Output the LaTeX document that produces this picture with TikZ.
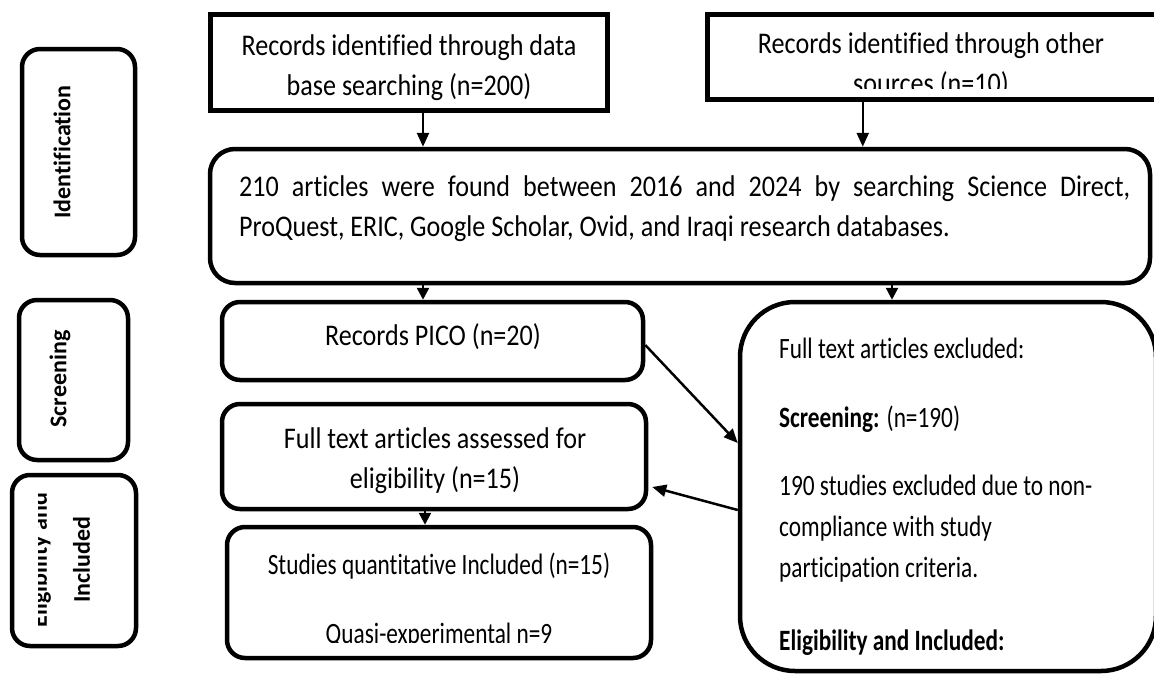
\documentclass[tikz,border=0pt]{standalone}
\usepackage{fontspec}
\setmainfont{Carlito}[FakeStretch=0.87,Ligatures=NoCommon]
\newfontfamily\lblfont{Carlito}[Ligatures=NoCommon]
\newfontfamily\narrowfont{Carlito}[FakeStretch=0.79,Ligatures=NoCommon]
\usetikzlibrary{arrows.meta}
\newcommand\fM{\fontsize{30}{40}\selectfont}
\newcommand\fS{\narrowfont\fontsize{29.5}{41}\selectfont}
\newcommand\fL{\lblfont\fontsize{24}{43}\selectfont\bfseries}
\tikzset{
  sharpbox/.style={draw, line width=5pt, inner sep=0pt},
  roundbox/.style={draw, line width=4.5pt, rounded corners=#1, inner sep=0pt},
  roundbox/.default=18pt,
  txt/.style={inner sep=0pt, align=center},
  arr/.style={-{Triangle[length=14pt,width=12pt]}, line width=2.5pt},
  sarr/.style={-{Triangle[length=12pt,width=12pt]}, line width=2.5pt},
}
\hyphenpenalty=10000
\begin{document}
\begin{tikzpicture}[x=1pt,y=-1pt]
\useasboundingbox (0,0) rectangle (1154,675);
\fill[white] (0,0) rectangle (1154,675);

% stage labels
\node[roundbox, minimum width=113pt, minimum height=206pt] (idl) at (78.5,152) {};
\node[font=\fL, rotate=90, inner sep=0pt] (idlt) at (62,152) {Identification};
\node[roundbox, minimum width=109pt, minimum height=160pt] (scr) at (73.5,380) {};
\node[font=\fL, rotate=90, inner sep=0pt] (scrt) at (60,379) {Screening};
\node[roundbox, minimum width=124pt, minimum height=171pt] (elg) at (74,560.5) {};
\begin{scope}
  \clip (38,470) rectangle (140,650);
  \node[font=\fL, rotate=90, align=center, inner sep=0pt] (elgt) at (60,560) {Eligibility and\\Included};
\end{scope}

% top boxes
\node[sharpbox, minimum width=397pt, minimum height=96pt] (tl) at (409,62.5) {};
\node[txt, font=\fM, anchor=north] (tlt) at (409,34.5) {Records identified through data\\base searching (n=200)};
\node[sharpbox, minimum width=452.5pt, minimum height=85pt] (tr) at (933.75,57) {};
\begin{scope}
  \clip (710,0) rectangle (1160,88);
  \node[txt, font=\fM, anchor=north] (trt) at (931,32.5) {Records identified through other\\sources (n=10)};
\end{scope}

% big box
\node[roundbox=25pt, minimum width=940pt, minimum height=134pt] (big) at (680,216) {};
\node[inner sep=0pt, text width=891pt, align=justify, font=\fM, anchor=north west] (bigt) at (239,175.5)
  {\noindent 210 articles were found between 2016 and 2024 by searching Science Direct,\linebreak ProQuest, ERIC, Google Scholar, Ovid, and Iraqi research databases.};

% left column
\node[roundbox, minimum width=421pt, minimum height=78pt] (pico) at (432.5,341) {};
\node[txt, font=\fM, anchor=base] (picot) at (433,345) {Records PICO (n=20)};
\node[roundbox, minimum width=424pt, minimum height=105pt] (ass) at (434,456.5) {};
\node[txt, font=\fM, anchor=north] (asst) at (435,427.5) {Full text articles assessed for\\eligibility (n=15)};
\node[roundbox, minimum width=424pt, minimum height=131pt] (stu) at (439,592.5) {};
\begin{scope}
  \clip (225,520) rectangle (655,642);
  \node[txt, font=\fS, anchor=north] (stut) at (439,552.5) {Studies quantitative Included (n=15)\\[28pt]Quasi-experimental n=9};
\end{scope}

% excluded box
\node[roundbox=55pt, minimum width=416pt, minimum height=369pt] (exc) at (948,486.5) {};
\begin{scope}
  \clip (742,300) rectangle (1154,655);
  \node[font=\fS, align=left, inner sep=0pt, anchor=north west] (exct) at (779,337.5)
   {Full text articles excluded:\\[28pt]\textbf{Screening:} (n=190)\\[27pt]190 studies excluded due to non-\\compliance with study\\participation criteria.\\[32pt]\textbf{Eligibility and Included:}};
\end{scope}

% connectors
\draw[arr] ([xshift=14pt]tl.south) -- ([xshift=14pt]tl.south |- big.north);
\draw[arr] ([xshift=-71pt]tr.south) -- ([xshift=-71pt]tr.south |- big.north);
\draw[sarr] ([xshift=-9.5pt]pico.north |- big.south) -- ([xshift=-9.5pt]pico.north);
\draw[sarr] ([xshift=-56pt]exc.north |- big.south) -- ([xshift=-56pt]exc.north);
\draw[arr] ([yshift=-4pt]pico.east) -- ([yshift=43.5pt]exc.west);
\draw[arr] ([yshift=-23.5pt]exc.west) -- ([xshift=4pt,yshift=-30.5pt]ass.east);
\draw[sarr] ([xshift=-9pt]ass.south) -- ([xshift=-9pt]ass.south |- stu.north);
\end{tikzpicture}
\end{document}
